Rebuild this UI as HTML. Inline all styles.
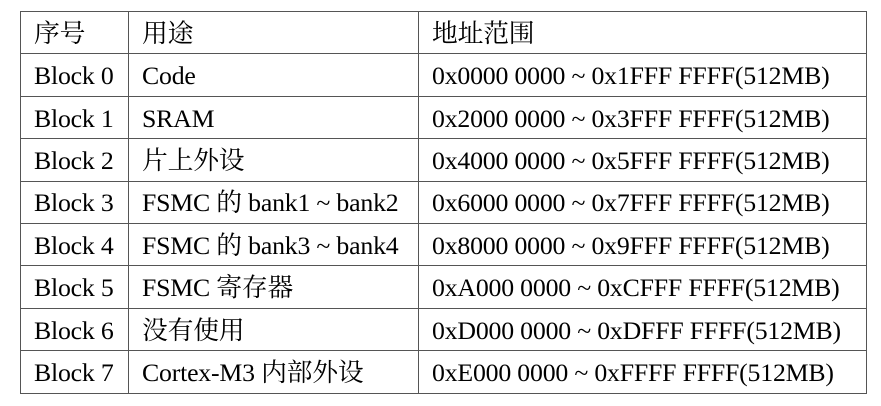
<!DOCTYPE html>
<html><head><meta charset="utf-8"><style>
body{margin:0;width:881px;height:406px;background:#fff;overflow:hidden}
table{position:absolute;left:20px;top:11px;border-collapse:collapse;font-family:"Liberation Serif","Noto Serif CJK SC",serif;font-size:25.8px;color:#000}
td{border:1.3px solid #555;height:42.4px;padding:2px 0 0 13px;white-space:nowrap;box-sizing:border-box;line-height:1;letter-spacing:-0.2px}
td:nth-child(1){width:108px}
td:nth-child(2){width:290px}
td:nth-child(3){width:448px}
</style></head><body>
<table>
<tr><td>序号</td><td>用途</td><td>地址范围</td></tr>
<tr><td>Block 0</td><td>Code</td><td>0x0000 0000 ~ 0x1FFF FFFF(512MB)</td></tr>
<tr><td>Block 1</td><td>SRAM</td><td>0x2000 0000 ~ 0x3FFF FFFF(512MB)</td></tr>
<tr><td>Block 2</td><td>片上外设</td><td>0x4000 0000 ~ 0x5FFF FFFF(512MB)</td></tr>
<tr><td>Block 3</td><td>FSMC 的 bank1 ~ bank2</td><td>0x6000 0000 ~ 0x7FFF FFFF(512MB)</td></tr>
<tr><td>Block 4</td><td>FSMC 的 bank3 ~ bank4</td><td>0x8000 0000 ~ 0x9FFF FFFF(512MB)</td></tr>
<tr><td>Block 5</td><td>FSMC 寄存器</td><td>0xA000 0000 ~ 0xCFFF FFFF(512MB)</td></tr>
<tr><td>Block 6</td><td>没有使用</td><td>0xD000 0000 ~ 0xDFFF FFFF(512MB)</td></tr>
<tr><td>Block 7</td><td>Cortex-M3 内部外设</td><td>0xE000 0000 ~ 0xFFFF FFFF(512MB)</td></tr>
</table>
</body></html>
